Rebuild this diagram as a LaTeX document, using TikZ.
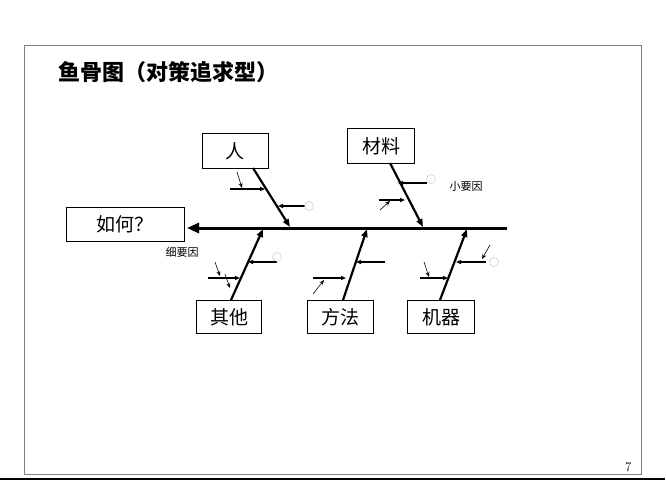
\documentclass[tikz,border=0pt]{standalone}
\usepackage{fontspec}
\newfontfamily\cjk{Noto Sans CJK SC}
\usetikzlibrary{arrows.meta}
\tikzset{
    factor/.style={draw=black, fill=white, font=\cjk\fontsize{19}{19}\selectfont, minimum width=64pt, minimum height=34pt, inner sep=0pt},
    bone/.style={line width=2.2pt, -{Triangle[length=8pt,width=6pt]}},
    twig/.style={line width=1.1pt, -{Triangle[length=5pt,width=4pt]}},
    sprig/.style={line width=.6pt, -{Stealth[length=5pt,width=4pt]}},
    bud/.style={draw=black!25, circle, inner sep=0pt, minimum size=9pt},
}
\begin{document}
\begin{tikzpicture}[x=1pt, y=-1pt]
    \useasboundingbox (0,0) rectangle (666,500);
    \draw[gray] (24,45) rectangle (641,474);
    \draw[line width=1.5pt] (0,479) -- (665,479);
    \node[anchor=west, font=\cjk\bfseries\fontsize{22}{22}\selectfont] (title) at (55,72) {鱼骨图（对策追求型）};
    \node[anchor=south east, font=\fontsize{13}{13}\selectfont] (page) at (635,475) {7};
    % main spine
    \node[factor, minimum width=118pt] (goal) at (125,224) {如何？};
    \coordinate (tail) at (507,228);
    \coordinate (head) at (187,228);
    \draw[line width=3pt, -{Triangle[length=12pt,width=10pt]}] (tail) -- (head);
    % factors
    \node[factor, minimum width=66pt, minimum height=35pt] (ren) at (235,151) {人};
    \node[factor, minimum width=67pt, minimum height=35pt] (cailiao) at (381,146) {材料};
    \node[factor, minimum width=65pt, minimum height=33pt] (qita) at (229,317) {其他};
    \node[factor, minimum width=66pt, minimum height=33pt] (fangfa) at (340,317) {方法};
    \node[factor, minimum width=67pt, minimum height=33pt] (jiqi) at (441,317) {机器};
    \coordinate (j1) at (290,227);
    \coordinate (j2) at (423,227);
    \coordinate (j3) at (263,229);
    \coordinate (j4) at (367,229);
    \coordinate (j5) at (467,229);
    \draw[bone] (253,168) -- (j1);
    \draw[bone] (390,163) -- (j2);
    \draw[bone] (231,300) -- (j3);
    \draw[bone] (343,300) -- (j4);
    \draw[bone] (440,300) -- (j5);
    % small causes
    \draw[twig] (230,189) -- (265,189);
    \draw[sprig] (237,172) -- (242,188);
    \draw[twig] (305,206) -- (278,206);
    \node[bud] (b1) at (309,206) {};
    \draw[twig] (427,183) -- (398,183);
    \node[bud] (b2) at (431,179) {};
    \draw[twig] (379,200) -- (405,200);
    \draw[sprig] (380,210) -- (390,201);
    \node[font=\cjk\fontsize{11}{11}\selectfont] (xiao) at (466,186) {小要因};
    \draw[twig] (277,262) -- (248,262);
    \node[bud] (b3) at (277,257) {};
    \draw[twig] (208,278) -- (240,278);
    \draw[sprig] (215,262) -- (220,276);
    \draw[sprig] (225,274) -- (230,288);
    \node[font=\cjk\fontsize{11}{11}\selectfont] (xi) at (182,252) {细要因};
    \draw[twig] (385,262) -- (356,262);
    \draw[twig] (313,278) -- (346,278);
    \draw[sprig] (313,294) -- (324,280);
    \draw[twig] (486,262) -- (456,262);
    \node[bud] (b4) at (494,262) {};
    \draw[sprig] (490,245) -- (482,259);
    \draw[twig] (420,278) -- (448,278);
    \draw[sprig] (424,262) -- (429,277);
\end{tikzpicture}
\end{document}
